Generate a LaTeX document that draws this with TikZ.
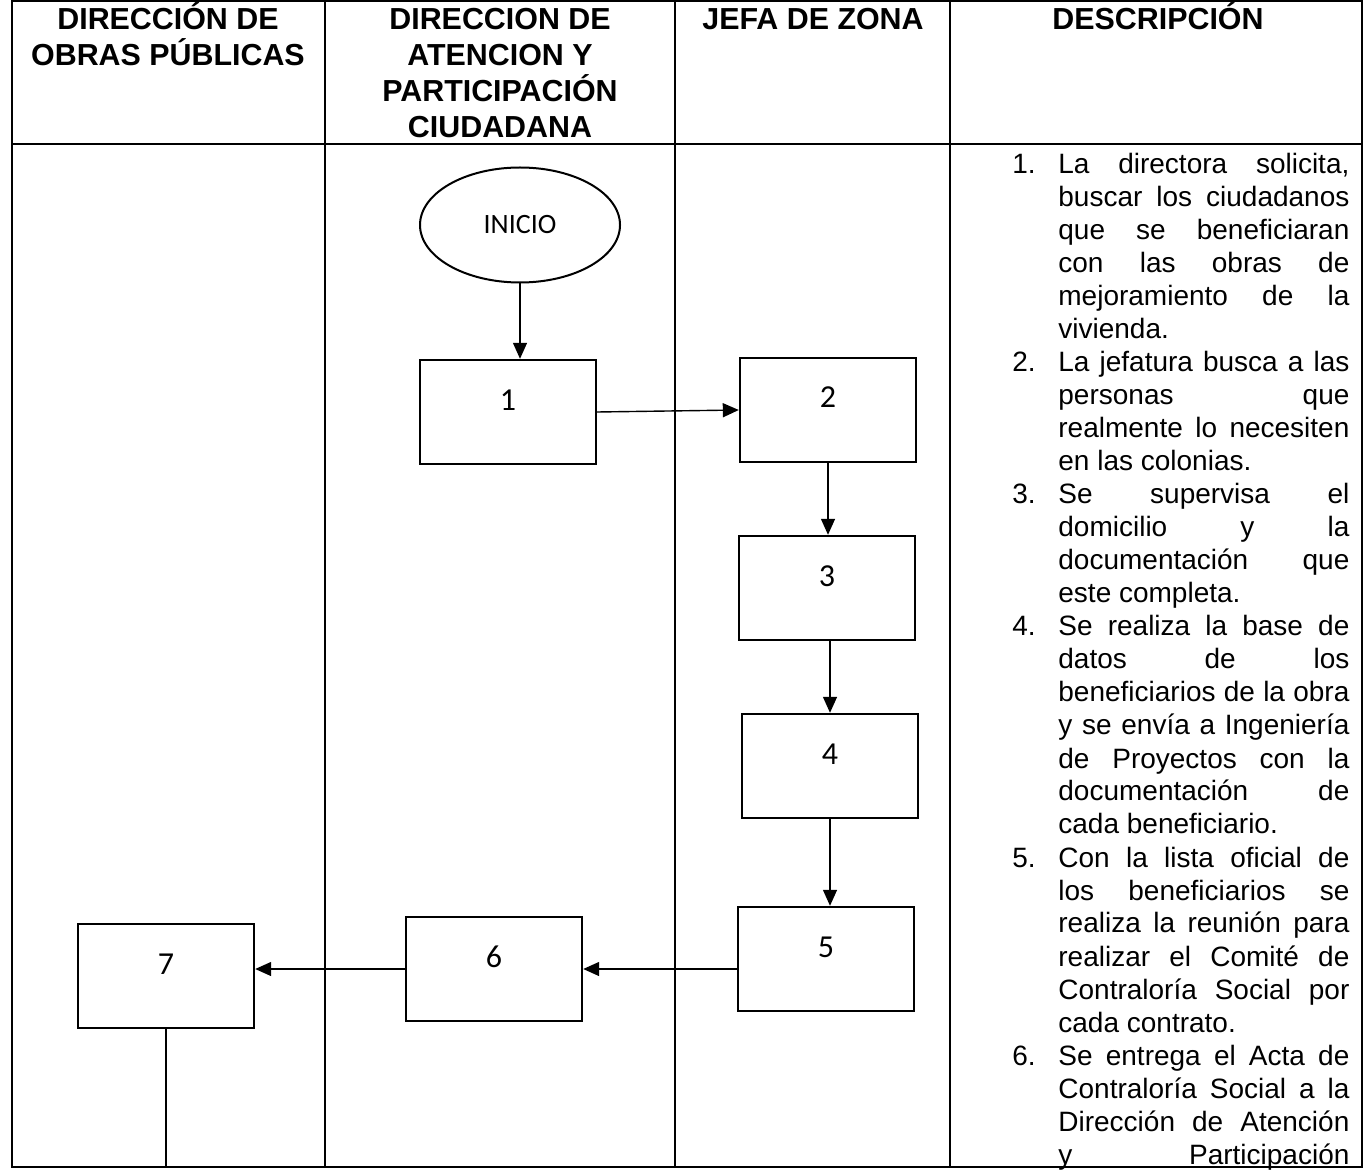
\documentclass[tikz,border=0pt]{standalone}
\usepackage{fontspec}
\setmainfont{Liberation Sans}
\newfontfamily\cajafont{Carlito}
\usetikzlibrary{arrows.meta,shapes.geometric}
\hbadness=10000
\newcommand{\paso}[1]{\par\noindent\hangindent=23pt\hangafter=1\makebox[23pt][l]{#1}}

\begin{document}
\begin{tikzpicture}[x=0.5pt,y=-0.5pt,
		tabla/.style={line width=1pt},
		cabeza/.style={anchor=base,align=center,inner sep=0pt,font=\bfseries\fontsize{15.2}{18}\selectfont},
		caja/.style={draw,line width=1.2pt,minimum width=88pt,minimum height=52pt,inner sep=0pt,text height=10.5pt,text depth=12.5pt,font=\cajafont\fontsize{16}{18}\selectfont},
		flecha/.style={line width=0.7pt,-{Triangle[length=8pt,width=7pt]}}]
			\useasboundingbox (0,0) rectangle (1368,1170);
			\draw[tabla] (12,1) rectangle (1362,1167);
			\draw[tabla] (12,144) -- (1362,144);
			\foreach \x in {325,675,950}
				\draw[tabla] (\x,1) -- (\x,1167);
			% the base of a node of several lines is its last line
			\node[cabeza] (h1) at (168,66) {DIRECCIÓN DE\\OBRAS PÚBLICAS};
			\node[cabeza] (h2) at (500,138) {DIRECCION DE\\ATENCION Y\\PARTICIPACIÓN\\CIUDADANA};
			\node[cabeza] (h3) at (813,30) {JEFA DE ZONA};
			\node[cabeza] (h4) at (1158,30) {DESCRIPCIÓN};
			\node[draw,ellipse,line width=1pt,minimum width=100pt,minimum height=57.5pt,font=\cajafont\fontsize{14}{16}\selectfont] (inicio) at (520,225) {INICIO};
			\node[caja] (p1) at (508,412) {1};
			\node[caja] (p2) at (828,410) {2};
			\node[caja] (p3) at (827,588) {3};
			\node[caja] (p4) at (830,766) {4};
			\node[caja] (p5) at (826,959) {5};
			\node[caja] (p6) at (494,969) {6};
			\node[caja] (p7) at (166,976) {7};
			\coordinate (fin) at (161,1167);
			\draw[flecha] (inicio.south) -- (inicio.south |- p1.north);
			\draw[flecha] (p1.east) -- (p2.west);
			\draw[flecha] (p2.south) -- (p2.south |- p3.north);
			\draw[flecha] (p3.south -| p4.north) -- (p4.north);
			\draw[flecha] (p4.south) -- (p4.south |- p5.north);
			\draw[flecha] (p5.west |- p6.east) -- (p6.east);
			\draw[flecha] (p6.west) -- (p6.west -| p7.east);
			\draw[line width=0.7pt] (p7.south) -- (p7.south |- fin);
			\node[anchor=base west,inner sep=0pt,text width=168.5pt,align=justify,font=\fontsize{14}{16.5}\selectfont] (desc) at (1012,141) {%
				\paso{1.}La directora solicita,\linebreak buscar los ciudadanos\linebreak que se beneficiaran\linebreak con las obras de\linebreak mejoramiento de la\linebreak vivienda.
				\paso{2.}La jefatura busca a las\linebreak personas que\linebreak realmente lo necesiten\linebreak en las colonias.
				\paso{3.}Se supervisa el\linebreak domicilio y la\linebreak documentación que\linebreak este completa.
				\paso{4.}Se realiza la base de\linebreak datos de los\linebreak beneficiarios de la obra\linebreak y se envía a Ingeniería\linebreak de Proyectos con la\linebreak documentación de\linebreak cada beneficiario.
				\paso{5.}Con la lista oficial de\linebreak los beneficiarios se\linebreak realiza la reunión para\linebreak realizar el Comité de\linebreak Contraloría Social por\linebreak cada contrato.
				\paso{6.}Se entrega el Acta de\linebreak Contraloría Social a la\linebreak Dirección de Atención\linebreak y Participación{\parfillskip=0pt\par}};
		\end{tikzpicture}
\end{document}
